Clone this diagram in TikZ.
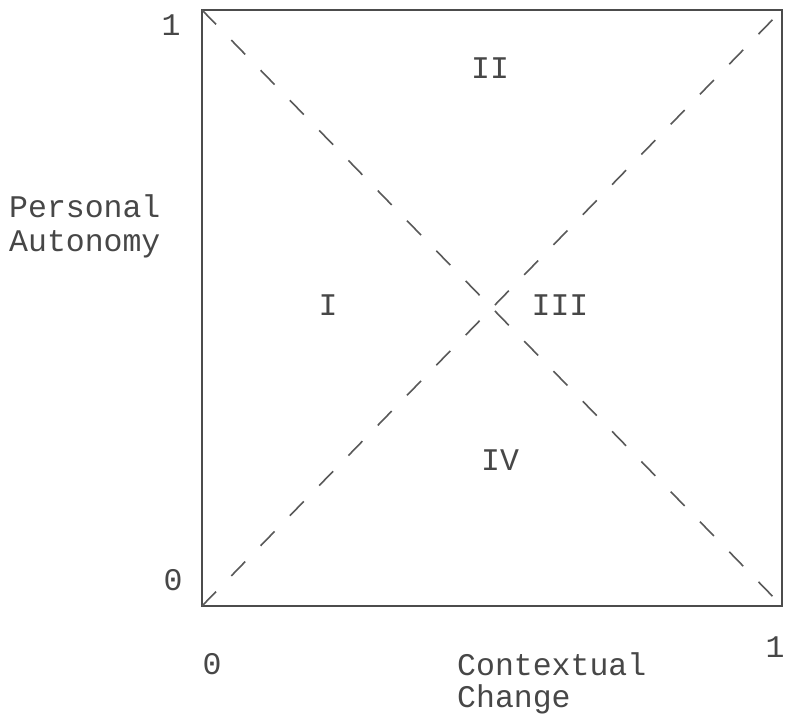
\documentclass[tikz,border=0pt]{standalone}
\usepackage{fontspec}
\setmonofont{Liberation Mono}
\begin{document}
\begin{tikzpicture}[x=1pt,y=-1pt,
  lbl/.style={font=\ttfamily\fontsize{31.5}{33}\selectfont, text=black!72, inner sep=0pt},
  frame/.style={draw=black!70, line width=2pt},
  diag/.style={draw=black!65, line width=1.6pt, dash pattern=on 20pt off 22pt}]
\useasboundingbox[fill=white] (0,0) rectangle (785,719);
\coordinate (tl) at (202,10);
\coordinate (tr) at (782,10);
\coordinate (bl) at (202,606);
\coordinate (br) at (782,606);
\draw[frame] (tl) -- (tr) -- (br) -- (bl) -- cycle;
\draw[diag] (tl) -- (br);
\draw[diag] (bl) -- (tr);
\node[lbl, anchor=base] (y1) at (171,36) {1};
\node[lbl, anchor=base] (y0) at (173,590) {0};
\node[lbl, anchor=base] (x0) at (212,674) {0};
\node[lbl, anchor=base] (x1) at (775,657) {1};
\node[lbl, anchor=base west] (ylab1) at (9,218) {Personal};
\node[lbl, anchor=base west] (ylab2) at (9,252) {Autonomy};
\node[lbl, anchor=base west] (xlab1) at (457,675) {Contextual};
\node[lbl, anchor=base west] (xlab2) at (457,707) {Change};
\node[lbl] (r2) at (490,68) {II};
\node[lbl] (r1) at (328,305) {I};
\node[lbl] (r3) at (560,305) {III};
\node[lbl] (r4) at (500,460) {IV};
\end{tikzpicture}
\end{document}
